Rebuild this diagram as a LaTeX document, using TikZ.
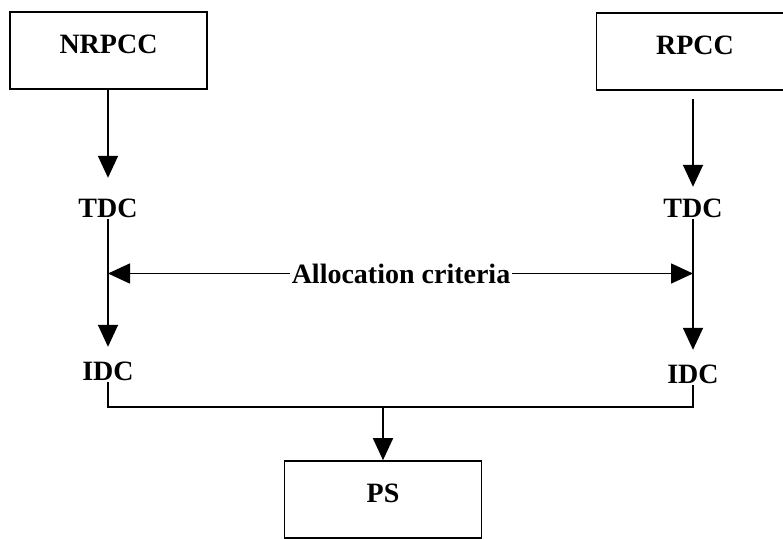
\documentclass[tikz,border=0pt]{standalone}
\usepackage{fontspec}
\setmainfont{Liberation Serif}
\usepackage{tikz}
\usetikzlibrary{arrows.meta,calc,positioning}
\tikzset{
  ccbox/.style={draw,line width=1.6pt,minimum width=197pt,minimum height=77pt,
    text height=19pt,text depth=14pt,inner sep=0pt},
  cclbl/.style={inner xsep=2pt,inner ysep=2pt,text height=19pt,text depth=0pt,anchor=base},
  ccline/.style={line width=1.6pt},
  ccarr/.style={ccline,-{Triangle[width=20pt,length=22pt]}}
}

\begin{document}
\begin{tikzpicture}[x=1pt,y=-1pt,font=\bfseries\fontsize{28}{30}\selectfont]
  \fill[white] (0,0) rectangle (783,538);
  \useasboundingbox (0,0) rectangle (783,538);
  \node[ccbox] (nrpcc) at (108.5,50.5) {NRPCC};
  \node[ccbox] (rpcc) at (695,51.5) {RPCC};
  \node[ccbox] (ps) at (383,499.5) {PS};
  \node[cclbl] (tdcL) at (108,217) {TDC};
  \node[cclbl] (tdcR) at (693,217) {TDC};
  \node[cclbl] (idcL) at (108,380) {IDC};
  \node[cclbl] (idcR) at (693,383) {IDC};
  \node[cclbl] (alloc) at (401,283) {Allocation criteria};
  \coordinate (bus) at (383,407);
  \draw[ccarr,shorten >=18pt] (nrpcc.south -| tdcL.north) -- (tdcL.north);
  \draw[ccarr,shorten <=8pt,shorten >=9pt] (rpcc.south -| tdcR.north) -- (tdcR.north);
  \draw[ccarr,shorten >=12pt] (tdcL.south) -- (idcL.north);
  \draw[ccarr,shorten >=12pt] (tdcR.south) -- (idcR.north);
  \draw[ccarr] (alloc.west) -- (alloc.west -| tdcL.south);
  \draw[ccarr] (alloc.east) -- (alloc.east -| tdcR.south);
  \draw[ccline] (idcL.south) |- (bus) -| (idcR.south);
  \draw[ccarr] (bus) -- (bus |- ps.north);
\end{tikzpicture}
\end{document}
